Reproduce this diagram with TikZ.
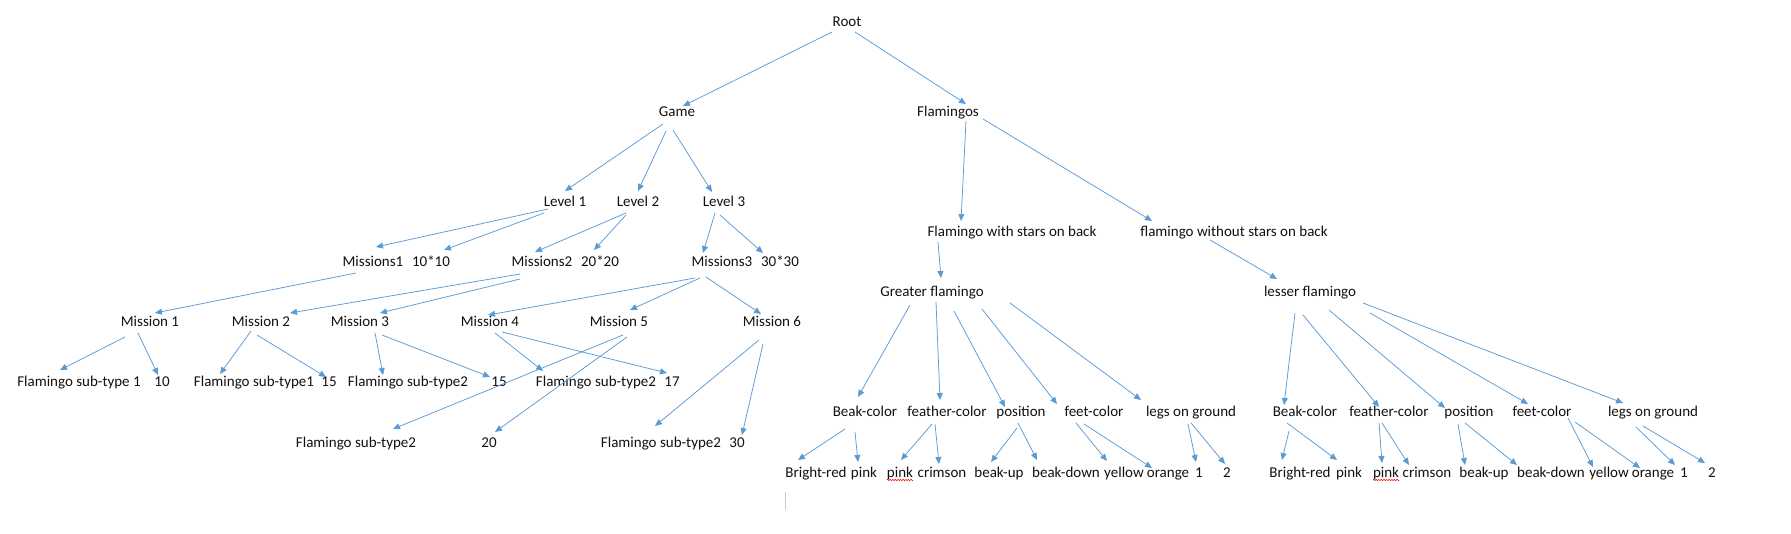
\documentclass[tikz,border=0pt]{standalone}
\usepackage{fontspec}
\setmainfont{Carlito}
\usetikzlibrary{arrows.meta,decorations.pathmorphing}
\definecolor{arrowblue}{HTML}{5B9BD5}
\definecolor{txt}{HTML}{111111}
\definecolor{cursorgray}{HTML}{C8C8C8}
\newcommand\arr[4]{\draw[conn] ([shift={(#2)}]#1.center) -- ([shift={(#4)}]#3.center);}
\begin{document}
\begin{tikzpicture}[x=1pt,y=-1pt,
  every node/.style={inner sep=0pt, text height=10pt, text depth=0pt, text=txt,
    font=\fontsize{15}{17}\selectfont},
  conn/.style={draw=arrowblue, line width=0.75pt, -{Triangle[length=7pt,width=6pt]}},
  spell/.style={draw=red, line width=0.5pt, decorate,
    decoration={snake, amplitude=0.7pt, segment length=2.6pt}}]
\useasboundingbox[fill=white] (0,0) rectangle (1791,534);

% ---------- top ----------
\node (root) at (847,22) {Root};
\node (game) at (677,112) {Game};
\node (flam) at (948,112) {Flamingos};
\node (l1) at (565,202) {Level 1};
\node (l2) at (638,202) {Level 2};
\node (l3) at (724,202) {Level 3};
\node (ms1) at (373,262) {Missions1};
\node (s10) at (431,262) {10*10};
\node (ms2) at (542,262) {Missions2};
\node (s20) at (600,262) {20*20};
\node (ms3) at (722,262) {Missions3};
\node (s30) at (780,262) {30*30};
\node (fws) at (1012,232) {Flamingo with stars on back};
\node (fwos) at (1234,232) {flamingo without stars on back};
\node (gf) at (932,292) {Greater flamingo};
\node (lf) at (1310,292) {lesser flamingo};

% ---------- missions ----------
\node (m1) at (150,322) {Mission 1};
\node (m2) at (261,322) {Mission 2};
\node (m3) at (360,322) {Mission 3};
\node (m4) at (490,322) {Mission 4};
\node (m5) at (619,322) {Mission 5};
\node (m6) at (772,322) {Mission 6};

\node (fa) at (79,382) {Flamingo sub-type 1};
\node (na) at (162,382) {10};
\node (fb) at (254,382) {Flamingo sub-type1};
\node (nb) at (329,382) {15};
\node (fc) at (408,382) {Flamingo sub-type2};
\node (nc) at (499,382) {15};
\node (fd) at (596,382) {Flamingo sub-type2};
\node (nd) at (672,382) {17};
\node (fe) at (356,442) {Flamingo sub-type2};
\node (ne) at (489,442) {20};
\node (ff) at (661,442) {Flamingo sub-type2};
\node (nf) at (737,442) {30};

% ---------- attributes ----------
\node (bcL) at (865,412) {Beak-color};
\node (fcL) at (947,412) {feather-color};
\node (poL) at (1021,412) {position};
\node (ftL) at (1094,412) {feet-color};
\node (lgL) at (1191,412) {legs on ground};
\node (bcR) at (1305,412) {Beak-color};
\node (fcR) at (1389,412) {feather-color};
\node (poR) at (1469,412) {position};
\node (ftR) at (1542,412) {feet-color};
\node (lgR) at (1653,412) {legs on ground};

% ---------- values ----------
\node (brL) at (816,472) {Bright-red};
\node (pkL) at (864,472) {pink};
\node (pk2L) at (900,472) {pink};
\node (crL) at (942,472) {crimson};
\node (buL) at (999,472) {beak-up};
\node (bdL) at (1066,472) {beak-down};
\node (yeL) at (1124,472) {yellow};
\node (orL) at (1168,472) {orange};
\node (oneL) at (1199,472) {1};
\node (twoL) at (1227,472) {2};
\node (brR) at (1300,472) {Bright-red};
\node (pkR) at (1349,472) {pink};
\node (pk2R) at (1386,472) {pink};
\node (crR) at (1427,472) {crimson};
\node (buR) at (1484,472) {beak-up};
\node (bdR) at (1551,472) {beak-down};
\node (yeR) at (1609,472) {yellow};
\node (orR) at (1653,472) {orange};
\node (oneR) at (1684,472) {1};
\node (twoR) at (1712,472) {2};

% spell-check underlines and cursor
\draw[spell] ([yshift=-3pt]pk2L.base west) -- ([yshift=-3pt]pk2L.base east);
\draw[spell] ([yshift=-3pt]pk2R.base west) -- ([yshift=-3pt]pk2R.base east);
\draw[cursorgray, line width=0.6pt] (785,492) -- (785,510);

% ---------- connectors ----------
\arr{root}{-15,10}{game}{6,-6}
\arr{root}{8,10}{flam}{18,-8}
\arr{game}{-14,12}{l1}{0,-11}
\arr{game}{-11,19}{l2}{0,-11}
\arr{game}{-4,18}{l3}{-12,-10}
\arr{l1}{-17,7}{ms1}{3,-15}
\arr{l1}{-21,11}{s10}{13,-12}
\arr{l2}{-12,11}{ms2}{-7,-10}
\arr{l2}{-12,13}{s20}{-6,-12}
\arr{l3}{-9,11}{ms3}{-19,-9}
\arr{l3}{-4,13}{s30}{-17,-9}
\arr{flam}{18,9}{fws}{-51,-11}
\arr{flam}{35,7}{fwos}{-82,-11}
\arr{fws}{-74,10}{gf}{9,-14}
\arr{fwos}{-24,8}{lf}{-33,-13}

\arr{ms1}{-17,11}{m1}{5,-9}
\arr{ms2}{-22,12}{m2}{29,-9}
\arr{ms2}{-22,17}{m3}{20,-9}
\arr{ms3}{-27,16}{m4}{-2,-7}
\arr{ms3}{-22,16}{m5}{11,-12}
\arr{ms3}{-16,15}{m6}{-11,-8}

\arr{m1}{-25,15}{fa}{-19,-12}
\arr{m1}{-12,11}{na}{-4,-7}
\arr{m2}{-10,9}{fb}{-34,-8}
\arr{m2}{-4,13}{nb}{-3,-5}
\arr{m3}{15,11}{fc}{-25,-7}
\arr{m3}{22,13}{nc}{-9,-5}
\arr{m4}{5,11}{fd}{-53,-11}
\arr{m4}{12,10}{nd}{-5,-9}
\arr{m5}{4,13}{fe}{37,-13}
\arr{m5}{8,15}{ne}{6,-10}
\arr{m6}{-13,18}{ff}{-6,-16}
\arr{m6}{-9,22}{nf}{5,-7}

\arr{gf}{-22,13}{bcL}{-7,-15}
\arr{gf}{4,10}{fcL}{-7,-12}
\arr{gf}{22,19}{poL}{-16,-5}
\arr{gf}{50,17}{ftL}{-37,-8}
\arr{gf}{78,11}{lgL}{-50,-12}
\arr{lf}{-15,21}{bcR}{-21,-7}
\arr{lf}{-7,23}{fcR}{-10,-5}
\arr{lf}{19,18}{poR}{-24,-4}
\arr{lf}{60,21}{ftR}{-14,-8}
\arr{lf}{53,11}{lgR}{-30,-9}

\arr{bcL}{-20,17}{brL}{-18,-12}
\arr{bcL}{-10,20}{pkL}{-6,-10}
\arr{fcL}{-15,12}{pk2L}{1,-12}
\arr{fcL}{-12,12}{crL}{-3,-8}
\arr{poL}{-4,16}{buL}{-8,-10}
\arr{poL}{-3,11}{bdL}{-29,-12}
\arr{ftL}{-18,11}{yeL}{-17,-11}
\arr{ftL}{-10,12}{orL}{-16,-4}
\arr{lgL}{-3,12}{oneL}{-3,-10}
\arr{lgL}{0,11}{twoL}{-2,-8}

\arr{bcR}{-16,19}{brR}{-18,-12}
\arr{bcR}{-18,11}{pkR}{-12,-12}
\arr{fcR}{-10,11}{pk2R}{-4,-9}
\arr{fcR}{-7,11}{crR}{-18,-7}
\arr{poR}{-11,12}{buR}{-19,-7}
\arr{poR}{-4,11}{bdR}{-34,-7}
\arr{ftR}{26,6}{yeR}{-16,-5}
\arr{ftR}{33,10}{orR}{-13,-4}
\arr{lgR}{-17,15}{oneR}{-9,-7}
\arr{lgR}{-10,14}{twoR}{-7,-9}
\end{tikzpicture}
\end{document}
